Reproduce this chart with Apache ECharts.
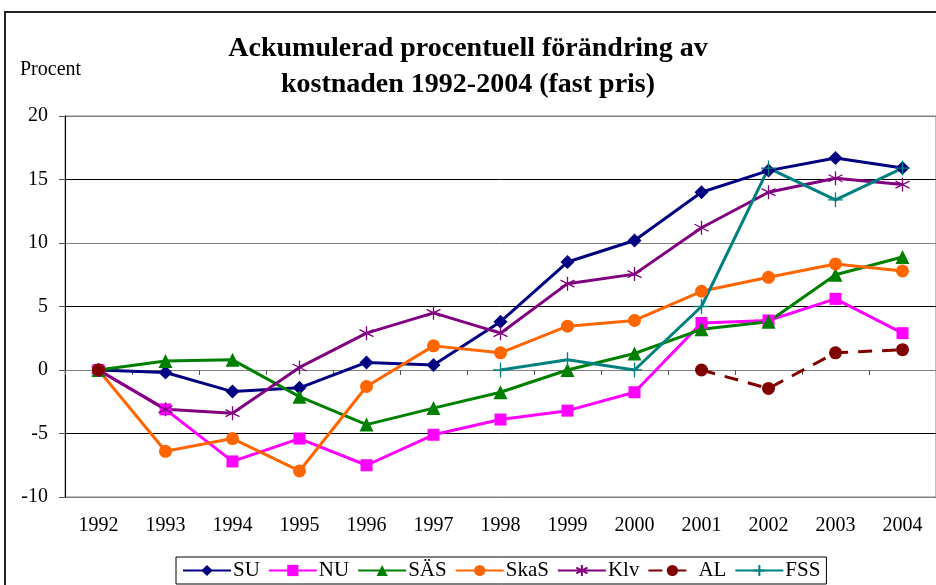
<!DOCTYPE html>
<html>
<head>
<meta charset="utf-8">
<script src="https://cdn.jsdelivr.net/npm/echarts@6/dist/echarts.min.js"></script>
<style>
  html, body { margin: 0; padding: 0; background: #fff; }
  #chart { width: 936px; height: 585px; }
</style>
</head>
<body>
<div id="chart"></div>
<script>
// år och värden
const years = ['1992', '1993', '1994', '1995', '1996', '1997', '1998', '1999', '2000', '2001', '2002', '2003', '2004']
const su   = [0, -0.2, -1.7, -1.4, 0.6, 0.4, 3.8, 8.5, 10.2, 14.0, 15.7, 16.7, 15.9]
const nu   = [0, -3.1, -7.2, -5.4, -7.5, -5.1, -3.9, -3.2, -1.75, 3.7, 3.9, 5.6, 2.9]
const sas  = [0, 0.7, 0.8, -2.1, -4.3, -3.0, -1.75, 0.0, 1.3, 3.2, 3.8, 7.5, 8.9]
const skas = [0, -6.4, -5.4, -7.95, -1.3, 1.9, 1.35, 3.45, 3.9, 6.2, 7.3, 8.35, 7.8]
const klv  = [0, -3.1, -3.4, 0.2, 2.9, 4.5, 2.9, 6.8, 7.55, 11.2, 14.0, 15.1, 14.6]
const al   = [0, null, null, null, null, null, null, null, null, 0.0, -1.45, 1.35, 1.6]
const fss  = [null, null, null, null, null, null, 0, 0.8, 0, 5.0, 15.9, 13.4, 15.9]
const yTicks = [-10, 20, 5]

const serif = 'Liberation Serif'
const star = 'path://M10,0 L10,20 M1.5,5 L18.5,15 M1.5,15 L18.5,5'
const plus = 'path://M10,0 L10,20 M0,10 L20,10'

function line (name, data, color, symbol, size, extra) {
  let s = {
    name: name,
    type: 'line',
    data: data,
    symbol: symbol,
    symbolSize: size,
    showAllSymbol: true,
    connectNulls: false,
    lineStyle: { color: color, width: 3 },
    itemStyle: { color: color }
  }
  return Object.assign(s, extra || {})
}

let option = {
  animation: false,
  title: {
    text: 'Ackumulerad procentuell förändring av\nkostnaden 1992-2004 (fast pris)',
    left: 'center',
    top: 26,
    textStyle: { fontFamily: serif, fontWeight: 'bold', fontSize: 28, lineHeight: 36, color: '#000' }
  },
  graphic: [
    { type: 'rect', shape: { x: 5, y: 12, width: 1000, height: 1000 }, style: { fill: 'none', stroke: '#222', lineWidth: 2 }, silent: true },
    { type: 'text', left: 20, top: 60, style: { text: 'Procent', font: '20px "Liberation Serif"', fill: '#000' } }
  ],
  legend: {
    left: 176,
    top: 557,
    padding: [3, 6],
    itemGap: 8,
    itemWidth: 48,
    itemHeight: 14,
    borderColor: '#000',
    borderWidth: 1,
    textStyle: { fontFamily: serif, fontSize: 21, color: '#000', padding: [0, 0, 0, -3] },
    data: ['SU', 'NU', 'SÄS', 'SkaS', 'Klv', 'AL', 'FSS']
  },
  grid: {
    left: 65, right: -1, top: 116, bottom: 88,
    show: true, borderColor: '#808080', borderWidth: 1
  },
  xAxis: [
    {
      type: 'category',
      data: years,
      position: 'bottom',
      axisLine: { show: false, onZero: false },
      axisTick: { show: false },
      axisLabel: { fontFamily: serif, fontSize: 20, color: '#000', margin: 19 }
    },
    {
      type: 'category',
      data: years,
      position: 'top',
      axisLine: { show: true, onZero: true, lineStyle: { color: '#808080', width: 1 } },
      axisTick: { show: true, inside: true, length: 5, lineStyle: { color: '#555' } },
      axisLabel: { show: false }
    }
  ],
  yAxis: {
    type: 'value',
    min: yTicks[0],
    max: yTicks[1],
    interval: yTicks[2],
    axisLine: { show: true, lineStyle: { color: '#000', width: 1 } },
    axisTick: { show: true, length: 6, lineStyle: { color: '#555' } },
    axisLabel: { fontFamily: serif, fontSize: 20, color: '#000', margin: 17 },
    splitLine: { show: true, lineStyle: { color: ['#808080', '#000', '#808080', '#000', '#808080', '#000', '#808080'], width: 1 } }
  },
  series: [
    line('SU', su, '#000080', 'diamond', 14),
    line('NU', nu, '#ff00ff', 'rect', 12),
    line('SÄS', sas, '#008000', 'triangle', 14),
    line('SkaS', skas, '#ff6600', 'circle', 13),
    line('Klv', klv, '#800080', star, 14, {
      itemStyle: { color: 'none', borderColor: '#800080', borderWidth: 1.3 }
    }),
    line('AL', al, '#800000', 'circle', 13, {
      lineStyle: { color: '#800000', width: 3, type: [14, 10] }
    }),
    line('FSS', fss, '#008080', plus, 15, {
      itemStyle: { color: 'none', borderColor: '#008080', borderWidth: 1.3 }
    })
  ]
}

let mychart = echarts.init(document.getElementById('chart'))
mychart.setOption(option)
</script>
</body>
</html>
